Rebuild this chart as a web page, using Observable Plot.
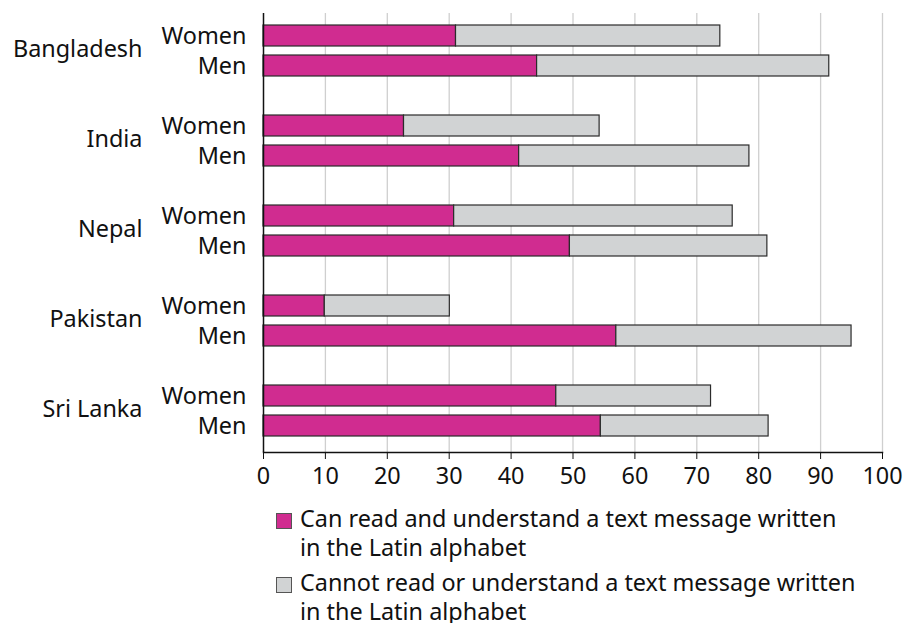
<!DOCTYPE html>
<html>
<head>
<meta charset="utf-8">
<script src="https://cdn.jsdelivr.net/npm/d3@7"></script>
<script src="https://cdn.jsdelivr.net/npm/@observablehq/plot@0.6"></script>
<style>
  html, body { margin: 0; padding: 0; background: #fff; }
  body { width: 904px; height: 623px; overflow: hidden; font-family: "Noto Sans", sans-serif; color: #111; }
  #chart svg { display: block; }
  #legend { margin-left: 276px; padding-top: 4px; font-size: 23.4px; line-height: 28.5px; }
  .item { display: flex; align-items: flex-start; margin-bottom: 7px; }
  .sw { width: 14px; height: 14px; border: 1px solid #555; margin-top: 9px; margin-right: 8px; flex: none; }
</style>
</head>
<body>
<div id="chart"></div>
<div id="legend"></div>
<script>
const countries = ["Bangladesh", "India", "Nepal", "Pakistan", "Sri Lanka"];
const sexes = ["Women", "Men"];
// share (%) who can read and understand a text message in the Latin alphabet
const canRead = {
  "Bangladesh": [31.1, 44.2],
  "India":      [22.7, 41.3],
  "Nepal":      [30.8, 49.5],
  "Pakistan":   [9.9, 57.0],
  "Sri Lanka":  [47.3, 54.5]
};
// share (%) who cannot read or understand it
const cannotRead = {
  "Bangladesh": [42.7, 47.2],
  "India":      [31.6, 37.2],
  "Nepal":      [45.0, 31.9],
  "Pakistan":   [20.2, 38.0],
  "Sri Lanka":  [25.0, 27.1]
};
const statuses = [
  "Can read and understand a text message written in the Latin alphabet",
  "Cannot read or understand a text message written in the Latin alphabet"
];
const legendLines = [
  ["Can read and understand a text message written", "in the Latin alphabet"],
  ["Cannot read or understand a text message written", "in the Latin alphabet"]
];
const colors = ["#d02c90", "#d1d3d4"];
const xTicks = [0, 10, 20, 30, 40, 50, 60, 70, 80, 90, 100];

const rows = [];
for (const c of countries) {
  sexes.forEach((s, j) => {
    rows.push({country: c, sex: s, key: c + "|" + s, status: statuses[0], value: canRead[c][j]});
    rows.push({country: c, sex: s, key: c + "|" + s, status: statuses[1], value: cannotRead[c][j]});
  });
}
const labelRows = [];
for (const c of countries) for (const s of sexes) labelRows.push({country: c, sex: s, key: c + "|" + s});
const countryRows = countries.map(c => ({country: c, key: c + "|" + sexes[0]}));

const yDomain = countries.flatMap((c, i) => {
  const k = sexes.map(s => c + "|" + s);
  return i < countries.length - 1 ? [...k, c + "|gap"] : k;
});

const chart = Plot.plot({
  width: 904,
  height: 500,
  marginLeft: 263,
  marginRight: 22,
  marginTop: 13,
  marginBottom: 48,
  style: {fontFamily: "Noto Sans, sans-serif", fontSize: "23.4px", color: "#111", background: "#fff"},
  x: {domain: [0, 100], ticks: xTicks, tickSize: 7, tickPadding: 8, label: null},
  y: {domain: yDomain, paddingInner: 0.289, paddingOuter: 0.391, align: 0.45, axis: null},
  color: {domain: statuses, range: colors},
  marks: [
    Plot.ruleX(xTicks.filter(d => d > 0), {stroke: "#cfcfcf", strokeWidth: 1.3}),
    Plot.barX(rows, Plot.stackX({x: "value", y: "key", fill: "status", stroke: "#2b2b2b", strokeWidth: 1.2})),
    Plot.ruleX([0], {stroke: "#111", strokeWidth: 1.5}),
    Plot.frame({anchor: "bottom", stroke: "#111", strokeWidth: 1.5}),
    Plot.text(labelRows, {y: "key", text: "sex", frameAnchor: "left", textAnchor: "end", dx: -17, fill: "#111"}),
    Plot.text(countryRows, {y: "key", text: "country", frameAnchor: "left", textAnchor: "end", dx: -121, dy: 13, fill: "#111"})
  ]
});
document.getElementById("chart").appendChild(chart);

const legend = document.getElementById("legend");
legendLines.forEach((lines, i) => {
  const item = document.createElement("div");
  item.className = "item";
  const sw = document.createElement("div");
  sw.className = "sw";
  sw.style.background = colors[i];
  const txt = document.createElement("div");
  lines.forEach(l => { const d = document.createElement("div"); d.textContent = l; txt.appendChild(d); });
  item.appendChild(sw);
  item.appendChild(txt);
  legend.appendChild(item);
});
</script>
</body>
</html>
